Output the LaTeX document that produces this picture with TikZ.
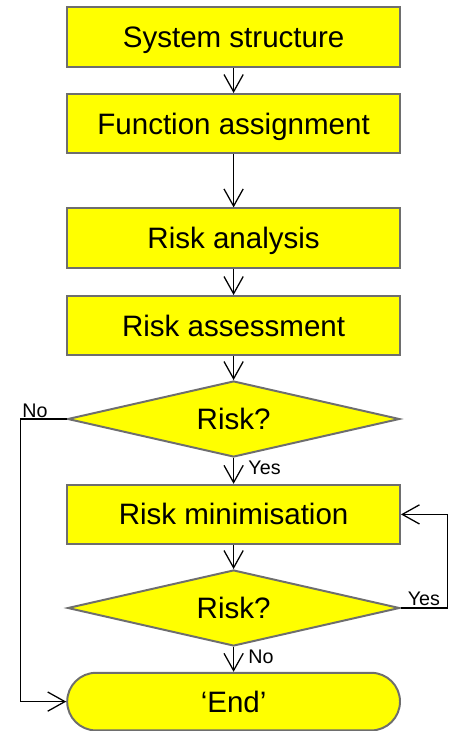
\documentclass[tikz,border=0pt]{standalone}
\usepackage{fontspec}
\setmainfont{Liberation Sans}
\usepackage{xcolor}
\usepackage{tikz}
\usetikzlibrary{shapes.geometric, arrows.meta, positioning, calc}
\definecolor{flowyellow}{HTML}{FFFF00}
\definecolor{edgegrey}{HTML}{6E6E6E}

\tikzset{
  stagebox/.style={draw=edgegrey, fill=flowyellow, line width=1.4pt, minimum width=8.32cm, minimum height=1.48cm, inner sep=0pt, text height=15pt, text depth=0pt, font=\fontsize{21}{21}\selectfont},
  riskgate/.style={diamond, draw=edgegrey, fill=flowyellow, line width=1.4pt, minimum width=8.3cm, minimum height=1.9cm, aspect=4.4, inner sep=0pt, text height=15pt, text depth=0pt, font=\fontsize{21}{21}\selectfont},
  endcap/.style={draw=edgegrey, fill=flowyellow, line width=1.4pt, rounded corners=0.72cm, minimum width=8.32cm, minimum height=1.44cm, inner sep=0pt, text height=15pt, text depth=0pt, font=\fontsize{21}{21}\selectfont},
  flowarrow/.style={line width=0.9pt, -{Straight Barb[length=4.3mm, width=4.8mm]}},
  branchtag/.style={font=\fontsize{14}{14}\selectfont, inner sep=1pt}
}

\begin{document}
\begin{tikzpicture}
  \useasboundingbox (0,0) rectangle (11.3,-18.275);

  % Main process chain
  \node[stagebox] (structure) at (5.84, -0.925) {System structure};
  \node[stagebox] (function) at (5.84, -3.09) {Function assignment};
  \node[stagebox] (analysis) at (5.84, -5.95) {Risk analysis};
  \node[stagebox] (assess) at (5.84, -8.14) {Risk assessment};
  \node[riskgate] (firstrisk) at (5.84, -10.475) {Risk?};
  \node[stagebox] (minimise) at (5.84, -12.86) {Risk minimisation};
  \node[riskgate] (secondrisk) at (5.84, -15.2) {Risk?};
  \node[endcap] (finish) at (5.84, -17.54) {‘End’};

  % Straight downward connectors
  \draw[flowarrow] (structure) -- (function);
  \draw[flowarrow] (function) -- (analysis);
  \draw[flowarrow] (analysis) -- (assess);
  \draw[flowarrow] (assess) -- (firstrisk);
  \draw[flowarrow] (firstrisk) -- (minimise);
  \draw[flowarrow] (minimise) -- (secondrisk);
  \draw[flowarrow] (secondrisk) -- (finish);

  % Side loops - No bypass on the left, Yes repeat on the right
  \draw[flowarrow] (firstrisk.west) -- ++(-1.15,0) coordinate (nocorner) |- (finish.west);
  \draw[flowarrow] (secondrisk.east) -- ++(1.175,0) coordinate (yescorner) |- (minimise.east);

  % Branch labels
  \node[branchtag, anchor=south west] at (nocorner) {No};
  \node[branchtag, anchor=north west] at ($(firstrisk.south)+(0.33,-0.02)$) {Yes};
  \node[branchtag, anchor=south east] at ($(yescorner)+(-0.15,0.02)$) {Yes};
  \node[branchtag, anchor=north west] at ($(secondrisk.south)+(0.33,-0.02)$) {No};
\end{tikzpicture}
\end{document}
